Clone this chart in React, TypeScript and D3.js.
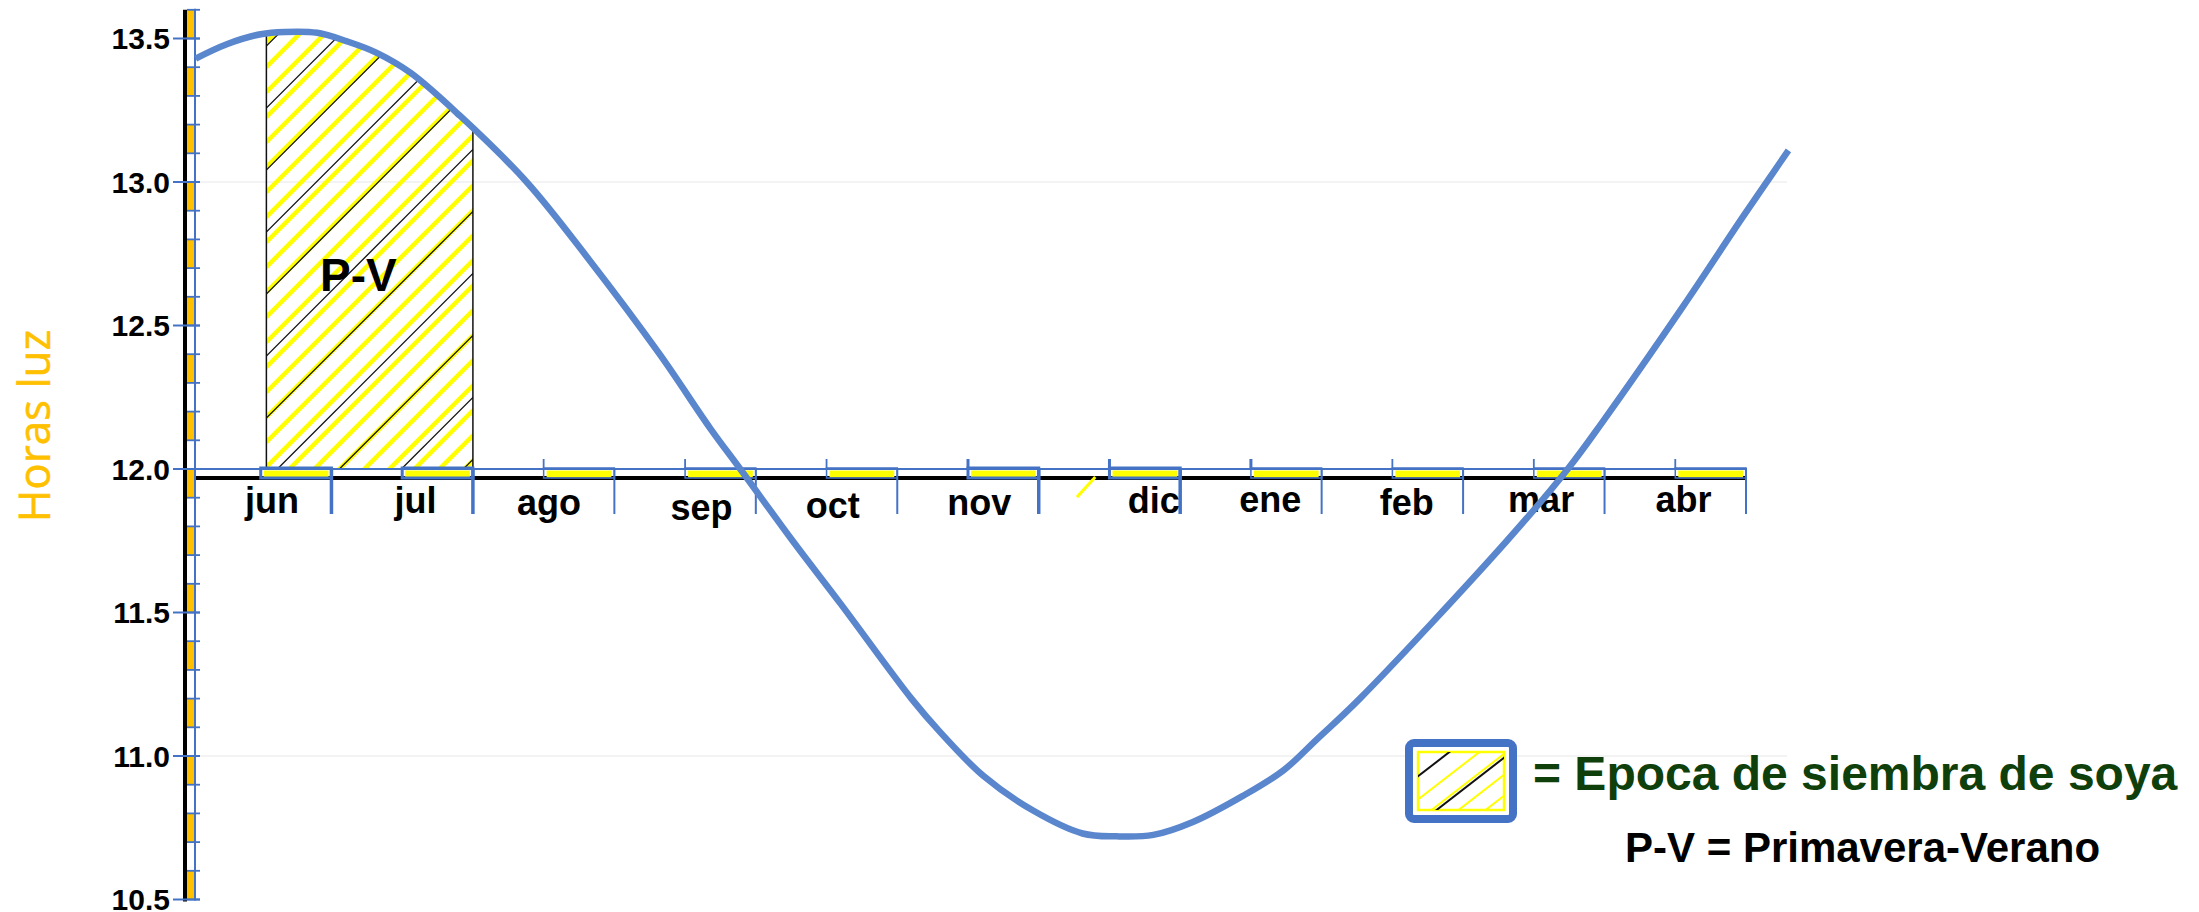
import React, { useRef, useEffect } from "react";
import * as d3 from "d3";

// month labels, left to right (jun -> abr)
const months = ["jun", "jul", "ago", "sep", "oct", "nov", "dic", "ene", "feb", "mar", "abr"];

// hours of daylight; position is in months counted from 1 jun
const curveMonths = [
  0.04, 0.26, 0.5, 0.67, 0.9, 1.11, 1.32, 1.56, 1.91, 2.38, 2.82, 3.32, 3.68, 3.89,
  4.26, 4.6, 5.1, 5.3, 5.61, 5.96, 6.31, 6.55, 6.81, 7.09, 7.44, 7.73, 7.97, 8.27,
  9.31, 9.74, 9.98, 10.56, 10.98, 11.3,
];
const curveHours = [
  13.43, 13.48, 13.515, 13.523, 13.52, 13.49, 13.45, 13.38, 13.23, 13.0, 12.73, 12.4, 12.14, 12.0,
  11.75, 11.53, 11.2, 11.085, 10.93, 10.81, 10.73, 10.72, 10.725, 10.77, 10.86, 10.95, 11.06, 11.2,
  11.75, 12.0, 12.16, 12.57, 12.88, 13.11,
];

// y axis labels
const yTicks = [10.5, 11.0, 11.5, 12.0, 12.5, 13.0, 13.5];

// sowing window P-V (mid june -> end of july), in months
const sowingStart = 0.54;
const sowingEnd = 2.0;

// layout tweaks for the month labels (px), as placed in the original slide
const labelDx = [0, 2, -6, 5, -5, 0, 33, 8, 3, -4, -3];
const labelDy = [0, 0, 2, 7, 5, 2, 0, -1, 2, -1, -1];
const heavyBoxes = ["jun", "jul", "nov", "dic"];

const BLUE = "#4472C4";
const CURVE = "#5A86CD";
const YELLOW = "#FFFF00";
const ORANGE = "#FFC000";
const FONT = "'Liberation Sans', Arial, sans-serif";

const App = () => {
  const svgRef = useRef(null);

  useEffect(() => {
    const svg = d3.select(svgRef.current);
    svg.selectAll("*").remove();

    const x = d3.scaleLinear().domain([0, 11]).range([190, 1746]);
    const y = d3.scaleLinear().domain([10.5, 13.6]).range([899.5, 9.8]);
    const y0 = y(12);

    const points = curveMonths.map((m, i) => [m, curveHours[i]]);
    const curveType = d3.curveCatmullRom.alpha(0.5);

    // faint guide lines
    svg
      .selectAll(".guide")
      .data([11, 13])
      .join("line")
      .attr("x1", 200)
      .attr("x2", 1787)
      .attr("y1", (d) => y(d))
      .attr("y2", (d) => y(d))
      .attr("stroke", "#efefef")
      .attr("stroke-width", 1.5);

    const defs = svg.append("defs");
    defs
      .append("clipPath")
      .attr("id", "pv-window")
      .append("rect")
      .attr("x", x(sowingStart))
      .attr("y", 0)
      .attr("width", x(sowingEnd) - x(sowingStart))
      .attr("height", y0);

    const area = d3
      .area()
      .x((d) => x(d[0]))
      .y0(y0)
      .y1((d) => y(d[1]))
      .curve(curveType);
    defs.append("clipPath").attr("id", "under-curve").append("path").attr("d", area(points));

    // hatched sowing window
    const hatch = svg
      .append("g")
      .attr("clip-path", "url(#pv-window)")
      .append("g")
      .attr("clip-path", "url(#under-curve)");

    const left = x(sowingStart);
    hatch
      .selectAll(".yl")
      .data(d3.range(-20, 30))
      .join("line")
      .attr("x1", (k) => left + k * 25 - 4)
      .attr("y1", y0 + 2)
      .attr("x2", (k) => left + k * 25 - 4 + 480)
      .attr("y2", y0 + 2 - 480)
      .attr("stroke", YELLOW)
      .attr("stroke-width", 4.5);
    hatch
      .selectAll(".bl")
      .data(d3.range(-9, 14))
      .join("line")
      .attr("x1", (k) => left + k * 62 + 9)
      .attr("y1", y0 + 2)
      .attr("x2", (k) => left + k * 62 + 9 + 480)
      .attr("y2", y0 + 2 - 480)
      .attr("stroke", "#111")
      .attr("stroke-width", 1.3);

    svg
      .append("g")
      .attr("clip-path", "url(#under-curve)")
      .selectAll("line")
      .data([sowingStart, sowingEnd])
      .join("line")
      .attr("x1", (d) => x(d))
      .attr("x2", (d) => x(d))
      .attr("y1", y0)
      .attr("y2", y(13.6))
      .attr("stroke", "#111")
      .attr("stroke-width", 1.5);

    svg
      .append("text")
      .attr("x", x(1.19))
      .attr("y", y(12.62))
      .attr("text-anchor", "middle")
      .attr("font-family", FONT)
      .attr("font-weight", "bold")
      .attr("font-size", 46)
      .attr("fill", "#000")
      .text("P-V");

    // x axis
    svg
      .append("line")
      .attr("x1", 184)
      .attr("x2", x(11))
      .attr("y1", y0 + 9)
      .attr("y2", y0 + 9)
      .attr("stroke", "#000")
      .attr("stroke-width", 4);
    svg
      .append("line")
      .attr("x1", 177)
      .attr("x2", x(11))
      .attr("y1", y0)
      .attr("y2", y0)
      .attr("stroke", BLUE)
      .attr("stroke-width", 2);

    const monthG = svg
      .selectAll(".month")
      .data(months)
      .join("g")
      .attr("class", "month");

    monthG
      .append("rect")
      .attr("x", (d, i) => x(i + 0.5) + 3)
      .attr("width", x(1) - x(0.5) - 6)
      .attr("y", y0 + 1.5)
      .attr("height", 7)
      .attr("fill", YELLOW);
    monthG
      .append("rect")
      .attr("x", (d, i) => x(i + 0.5))
      .attr("width", x(1) - x(0.5))
      .attr("y", y0 - 1)
      .attr("height", 10)
      .attr("fill", "none")
      .attr("stroke", BLUE)
      .attr("stroke-width", (d) => (heavyBoxes.includes(d) ? 3 : 1.5));
    monthG
      .append("line")
      .attr("x1", (d, i) => x(i + 1))
      .attr("x2", (d, i) => x(i + 1))
      .attr("y1", y0 - 1)
      .attr("y2", y0 + 45)
      .attr("stroke", BLUE)
      .attr("stroke-width", (d) => (heavyBoxes.includes(d) ? 3.5 : 2));
    monthG
      .filter((d, i) => i > 1)
      .append("line")
      .attr("x1", (d) => x(months.indexOf(d) + 0.5))
      .attr("x2", (d) => x(months.indexOf(d) + 0.5))
      .attr("y1", y0 - 10)
      .attr("y2", y0)
      .attr("stroke", BLUE)
      .attr("stroke-width", (d) => (["nov", "dic", "ene"].includes(d) ? 3 : 1.8));
    monthG
      .append("text")
      .attr("x", (d, i) => x(i + 0.58) + labelDx[i])
      .attr("y", (d, i) => y0 + 44 + labelDy[i])
      .attr("text-anchor", "middle")
      .attr("font-family", FONT)
      .attr("font-weight", "bold")
      .attr("font-size", 36)
      .attr("fill", "#000")
      .text((d) => d);

    // stray yellow stroke between nov and dic
    svg
      .append("line")
      .attr("x1", x(6.27))
      .attr("y1", y(11.902))
      .attr("x2", x(6.4))
      .attr("y2", y(11.972))
      .attr("stroke", YELLOW)
      .attr("stroke-width", 3);

    // y axis
    const yTop = y(13.6);
    const yBottom = y(10.5);
    svg
      .append("line")
      .attr("x1", 185)
      .attr("x2", 185)
      .attr("y1", yTop)
      .attr("y2", yBottom + 2)
      .attr("stroke", "#000")
      .attr("stroke-width", 4);
    const orangeTops = d3.range(106, 137, 2).map((v) => v / 10);
    svg
      .selectAll(".seg")
      .data(orangeTops)
      .join("rect")
      .attr("x", 187)
      .attr("width", 8)
      .attr("y", (d) => y(d))
      .attr("height", (d) => y(d - 0.1) - y(d))
      .attr("fill", ORANGE);
    svg
      .append("line")
      .attr("x1", 195)
      .attr("x2", 195)
      .attr("y1", yTop - 1)
      .attr("y2", yBottom + 1)
      .attr("stroke", BLUE)
      .attr("stroke-width", 2);
    svg
      .selectAll(".minor")
      .data(d3.range(105, 137).map((v) => v / 10))
      .join("line")
      .attr("x1", 187)
      .attr("x2", 200)
      .attr("y1", (d) => y(d))
      .attr("y2", (d) => y(d))
      .attr("stroke", BLUE)
      .attr("stroke-width", 1.8);
    svg
      .selectAll(".major")
      .data(yTicks)
      .join("line")
      .attr("x1", 173)
      .attr("x2", 200)
      .attr("y1", (d) => y(d))
      .attr("y2", (d) => y(d))
      .attr("stroke", BLUE)
      .attr("stroke-width", 2);
    svg
      .selectAll(".ylab")
      .data(yTicks)
      .join("text")
      .attr("x", 170)
      .attr("y", (d) => y(d) + 10.5)
      .attr("text-anchor", "end")
      .attr("font-family", FONT)
      .attr("font-weight", "bold")
      .attr("font-size", 30)
      .attr("fill", "#000")
      .text((d) => d3.format(".1f")(d));

    svg
      .append("text")
      .attr("transform", "translate(50, 426) rotate(-90)")
      .attr("text-anchor", "middle")
      .attr("font-family", "'Open Sans', sans-serif")
      .attr("font-size", 44)
      .attr("fill", ORANGE)
      .attr("stroke", ORANGE)
      .attr("stroke-width", 0.6)
      .text("Horas luz");

    // the day-length curve
    const line = d3
      .line()
      .x((d) => x(d[0]))
      .y((d) => y(d[1]))
      .curve(curveType);
    svg
      .append("path")
      .datum(points)
      .attr("d", line)
      .attr("fill", "none")
      .attr("stroke", CURVE)
      .attr("stroke-width", 6.5)
      .attr("stroke-linejoin", "round");

    // legend
    const lg = svg.append("g").attr("transform", "translate(1405, 739)");
    defs
      .append("clipPath")
      .attr("id", "legend-clip")
      .append("rect")
      .attr("x", 1418)
      .attr("y", 752)
      .attr("width", 86)
      .attr("height", 58);
    lg.append("rect")
      .attr("x", 4)
      .attr("y", 4)
      .attr("width", 104)
      .attr("height", 76)
      .attr("rx", 5)
      .attr("fill", "#fff")
      .attr("stroke", BLUE)
      .attr("stroke-width", 8);
    const lgHatch = svg.append("g").attr("clip-path", "url(#legend-clip)");
    lgHatch
      .selectAll(".lgy")
      .data(d3.range(0, 6))
      .join("line")
      .attr("x1", (k) => 1402 + k * 27)
      .attr("y1", 812)
      .attr("x2", (k) => 1402 + k * 27 + 80)
      .attr("y2", 812 - 62)
      .attr("stroke", YELLOW)
      .attr("stroke-width", 2);
    lgHatch
      .selectAll(".lgb")
      .data([0, 1])
      .join("line")
      .attr("x1", (k) => 1372 + k * 62)
      .attr("y1", 812)
      .attr("x2", (k) => 1372 + k * 62 + 80)
      .attr("y2", 812 - 62)
      .attr("stroke", "#111")
      .attr("stroke-width", 2);
    lg.append("rect")
      .attr("x", 13)
      .attr("y", 13)
      .attr("width", 86)
      .attr("height", 58)
      .attr("fill", "none")
      .attr("stroke", YELLOW)
      .attr("stroke-width", 2.5);

    svg
      .append("text")
      .attr("x", 1533)
      .attr("y", 790)
      .attr("font-family", FONT)
      .attr("font-weight", "bold")
      .attr("font-size", 48)
      .attr("fill", "#0F3F0A")
      .text("= Epoca de siembra de soya");
    svg
      .append("text")
      .attr("x", 1625)
      .attr("y", 862)
      .attr("font-family", FONT)
      .attr("font-weight", "bold")
      .attr("font-size", 42)
      .attr("fill", "#000")
      .text("P-V = Primavera-Verano");
  }, []);

  return (
    <div style={{ position: "absolute", left: 0, top: 0, background: "#fff" }}>
      <svg ref={svgRef} width={2199} height={912} style={{ display: "block" }} />
    </div>
  );
};

export default App;
